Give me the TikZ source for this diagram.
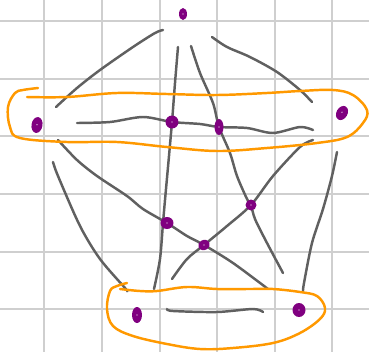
\documentclass[tikz,border=0pt]{standalone}
\usetikzlibrary{shapes.geometric}

\definecolor{gridc}{HTML}{CFCFCF}
\definecolor{edgec}{HTML}{606060}
\definecolor{loopc}{HTML}{FF9900}
\definecolor{dotc}{HTML}{800080}

\begin{document}
\begin{tikzpicture}[x=0.02cm, y=-0.02cm,
  gridline/.style={gridc, line width=1.1pt},
  edge/.style={edgec, line width=1.4pt, line cap=round, line join=round},
  hyper/.style={loopc, line width=1.4pt, line cap=round, line join=round},
  dot/.style={ellipse, fill=dotc, inner sep=0pt,
    path picture={\fill[white] (path picture bounding box.center) circle (0.35pt);}}]
  \useasboundingbox (0,0) rectangle (369,352);
  \fill[white] (0,0) rectangle (369,352);

  % background grid
  \foreach \gx in {44,102,160,217,275,332}
    \draw[gridline] (\gx,0) -- (\gx,352);
  \foreach \gy in {21,79,136,194,252,309}
    \draw[gridline] (0,\gy) -- (369,\gy);

  % vertex positions
  \coordinate (vtop) at (183,14);
  \coordinate (vleft) at (37,125);
  \coordinate (vmidl) at (172,122);
  \coordinate (vmidr) at (219,127);
  \coordinate (vright) at (342,113);
  \coordinate (vinA) at (167,223);
  \coordinate (vinB) at (251,205);
  \coordinate (vinC) at (204,245);
  \coordinate (vbotl) at (137,315);
  \coordinate (vbotr) at (299,310);

  % outer edges
  \draw[edge] plot[smooth] coordinates {(163,30) (155,33) (133,47) (100,70) (77,88) (56,107)};
  \draw[edge] plot[smooth] coordinates {(212,37) (227,47) (250,57) (277,72) (300,90) (312,102)};
  \draw[edge] plot[smooth] coordinates {(53,162) (58,176) (80,226) (100,259) (125,288) (127,291)};
  \draw[edge] plot[smooth] coordinates {(337,152) (332,176) (323,209) (312,243) (304,283) (303,291)};

  % long strokes through the middle
  \draw[edge] plot[smooth] coordinates {(178,47) (175,83) (vmidl) (168,167) (165,200) (163,223) (160,259) (154,289)};
  \draw[edge] plot[smooth] coordinates {(191,46) (200,73) (213,103) (vmidr) (230,153) (237,176) (247,199) (vinB) (255,219) (267,243) (283,273)};
  \draw[edge] plot[smooth] coordinates {(77,123) (110,122) (143,117) (vmidl) (200,124) (vmidr) (247,128) (273,133) (300,127) (313,130)};
  \draw[edge] plot[smooth] coordinates {(58,140) (77,160) (97,176) (127,196) (143,209) (vinA) (187,236) (vinC) (233,263) (268,289)};
  \draw[edge] plot[smooth] coordinates {(313,140) (300,147) (273,176) (vinB) (227,226) (vinC) (187,259) (172,279)};
  \draw[edge] plot[smooth] coordinates {(167,309) (173,311) (217,312) (253,309) (263,312)};

  % hyperedges
  \draw[hyper] plot[smooth, tension=0.6] coordinates {(27,97) (67,97) (117,93) (167,94) (217,95) (267,93) (300,91) (333,90) (353,95) (367,110) (363,123) (347,137) (317,143) (267,148) (217,151) (167,147) (117,142) (67,142) (20,138) (10,127) (8,107) (15,93) (23,90) (38,88)};
  \draw[hyper] plot[smooth, tension=0.6] coordinates {(120,289) (140,291) (157,291) (187,287) (217,289) (250,289) (273,289) (300,292) (317,296) (325,308) (320,319) (300,333) (273,343) (233,348) (200,349) (167,344) (133,336) (113,326) (107,309) (110,291) (117,286) (127,283)};

  % vertices
  \node[dot, minimum width=0.16cm, minimum height=0.24cm] (ntop) at (vtop) {};
  \node[dot, minimum width=0.22cm, minimum height=0.32cm, rotate=-10] (nleft) at (vleft) {};
  \node[dot, minimum width=0.26cm, minimum height=0.26cm] (nmidl) at (vmidl) {};
  \node[dot, minimum width=0.18cm, minimum height=0.32cm] (nmidr) at (vmidr) {};
  \node[dot, minimum width=0.22cm, minimum height=0.30cm, rotate=-30] (nright) at (vright) {};
  \node[dot, minimum width=0.26cm, minimum height=0.24cm] (ninA) at (vinA) {};
  \node[dot, minimum width=0.22cm, minimum height=0.22cm] (ninB) at (vinB) {};
  \node[dot, minimum width=0.24cm, minimum height=0.20cm, rotate=30] (ninC) at (vinC) {};
  \node[dot, minimum width=0.20cm, minimum height=0.32cm] (nbotl) at (vbotl) {};
  \node[dot, minimum width=0.26cm, minimum height=0.28cm] (nbotr) at (vbotr) {};
\end{tikzpicture}
\end{document}
